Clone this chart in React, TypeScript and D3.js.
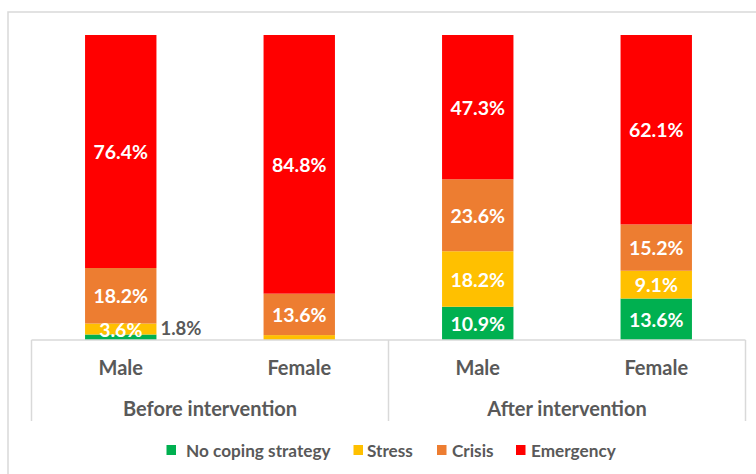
import React from "react";
import * as d3 from "d3";

const categories = ["Male", "Female", "Male", "Female"];
const groups = ["Before intervention", "After intervention"];
const seriesNames = ["No coping strategy", "Stress", "Crisis", "Emergency"];
const seriesColors = ["#00B050", "#FFC000", "#ED7D31", "#FF0000"];
const noCoping = [1.8, 0, 10.9, 13.6];
const stress = [3.6, 1.6, 18.2, 9.1];
const crisis = [18.2, 13.6, 23.6, 15.2];
const emergency = [76.4, 84.8, 47.3, 62.1];

const FONT = "Lato, 'Open Sans', sans-serif";

export default function App() {
  const W = 756, H = 474;
  const plotLeft = 31.5, plotRight = 745.5;
  const yTop = 35, yBottom = 340;
  const x = d3.scaleBand<number>().domain(categories.map((_, i) => i)).range([plotLeft, plotRight]).paddingInner(0.6).paddingOuter(0.3);
  const y = d3.scaleLinear().domain([0, 100]).range([yBottom, yTop]);

  const table = categories.map((c, i) => ({
    i,
    "No coping strategy": noCoping[i],
    Stress: stress[i],
    Crisis: crisis[i],
    Emergency: emergency[i],
  }));
  const stacked = d3.stack<any>().keys(seriesNames)(table);
  const mid = (plotLeft + plotRight) / 2;
  const groupCenters = [(plotLeft + mid) / 2, (mid + plotRight) / 2];
  const axisBottom = 421;
  const gray = "#595959";
  const lineColor = "#D9D9D9";

  const legendItems = [
    { x: 166.5, tx: 186 },
    { x: 353.5, tx: 367 },
    { x: 437, tx: 452 },
    { x: 516, tx: 531 },
  ];

  return (
    <svg width={W} height={H} style={{ position: "absolute", left: 0, top: 0 }} fontFamily={FONT}>
      <rect x={0} y={0} width={W} height={H} fill="#fff" />
      <rect x={8} y={12} width={W + 10} height={H + 10} fill="none" stroke={lineColor} strokeWidth={1.5} />
      {stacked.map((layer, si) => (
        <g key={si}>
          {layer.map((d, i) => {
            const v = d[1] - d[0];
            if (v <= 0) return null;
            return (
              <rect key={i} x={x(i)} y={y(d[1])} width={x.bandwidth()} height={y(d[0]) - y(d[1])} fill={seriesColors[si]} />
            );
          })}
        </g>
      ))}
      {stacked.map((layer, si) => (
        <g key={"l" + si}>
          {layer.map((d, i) => {
            const v = d[1] - d[0];
            if (v < 1.7) return null;
            const cx = (x(i) as number) + x.bandwidth() / 2;
            const cy = y((d[0] + d[1]) / 2);
            if (v < 3) {
              return (
                <text key={i} x={(x(i) as number) + x.bandwidth() + 4} y={cy - 9} fill={gray} fontSize={18.5} fontWeight="bold" dominantBaseline="central">
                  {v.toFixed(1)}%
                </text>
              );
            }
            return (
              <text key={i} x={cx} y={cy} fill="#fff" fontSize={19.5} fontWeight="bold" textAnchor="middle" dominantBaseline="central">
                {v.toFixed(1)}%
              </text>
            );
          })}
        </g>
      ))}
      <line x1={plotLeft} x2={plotRight} y1={yBottom} y2={yBottom} stroke={lineColor} strokeWidth={1.5} />
      {[plotLeft, mid, plotRight].map((lx, k) => (
        <line key={k} x1={lx} x2={lx} y1={yBottom} y2={axisBottom} stroke={lineColor} strokeWidth={1.5} />
      ))}
      {categories.map((c, i) => (
        <text key={i} x={(x(i) as number) + x.bandwidth() / 2} y={367} fill={gray} fontSize={20} fontWeight="bold" textAnchor="middle" dominantBaseline="central">
          {c}
        </text>
      ))}
      {groups.map((g, k) => (
        <text key={k} x={groupCenters[k]} y={408} fill={gray} fontSize={20} fontWeight="bold" textAnchor="middle" dominantBaseline="central">
          {g}
        </text>
      ))}
      {seriesNames.map((s, k) => (
        <g key={k}>
          <rect x={legendItems[k].x} y={445} width={9.5} height={10} fill={seriesColors[k]} />
          <text x={legendItems[k].tx} y={450} fill={gray} fontSize={17.2} fontWeight="bold" dominantBaseline="central">
            {s}
          </text>
        </g>
      ))}
    </svg>
  );
}
